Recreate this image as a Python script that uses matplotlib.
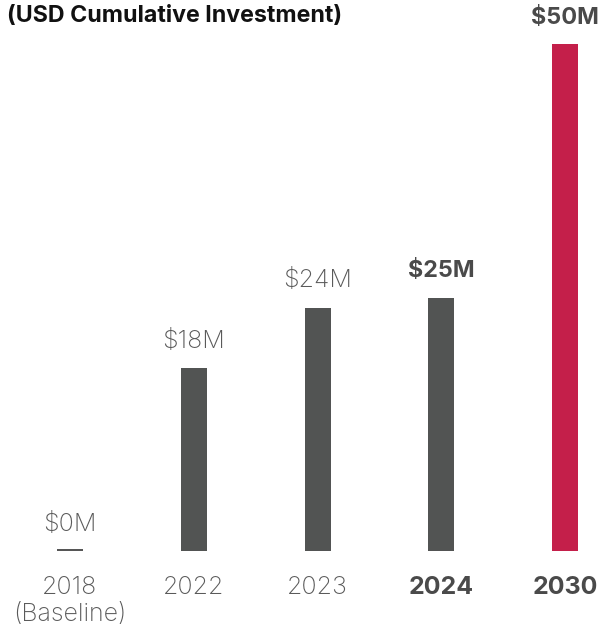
import matplotlib.pyplot as plt

categories = ["2018\n(Baseline)", "2022", "2023", "2024", "2030"]
values = [0, 18, 24, 25, 50]
value_labels = ["$0M", "$18M", "$24M", "$25M", "$50M"]
bold_flags = [False, False, False, True, True]
bar_colors = ["#525453", "#525453", "#525453", "#525453", "#C41F4A"]

W, H = 600, 629
fig = plt.figure(figsize=(W / 100, H / 100), dpi=100)
base_px = 78  # baseline distance from bottom, px
ax = fig.add_axes([0, base_px / H, 1, 1 - base_px / H])

step = 123.75
ax.set_xlim(-70 / step, 4 + 35 / step)
ax.set_ylim(0, (H - base_px) / 10.14)
x = list(range(len(values)))
width = 26 / step

ax.bar(x, values, width=width, color=bar_colors, linewidth=0)
# zero-value bar drawn as a thin baseline stroke
for xi, v, c in zip(x, values, bar_colors):
    if v == 0:
        ax.hlines(v + 0.08, xi - width / 2, xi + width / 2, color="#444444", linewidth=1.3)

fam = ["Inter", "DejaVu Sans"]
for xi, v, lab, b in zip(x, values, value_labels, bold_flags):
    ax.annotate(lab, (xi, v), xytext=(0, 11), textcoords="offset points",
                ha="center", va="bottom", fontsize=16.8 if b else 18, family=fam,
                fontweight="bold" if b else "light",
                color="#4a4a4a" if b else "#5a5a5a")

ax.set_xticks(x)
ax.set_xticklabels(categories, fontsize=18, family=fam, linespacing=1.25)
for t, b in zip(ax.get_xticklabels(), bold_flags):
    t.set_fontweight("bold" if b else "light")
    t.set_color("#4a4a4a" if b else "#5a5a5a")
    t.set_verticalalignment("top")
ax.tick_params(axis="x", length=0, pad=18)
ax.set_yticks([])
for s in ax.spines.values():
    s.set_visible(False)

fig.text(7 / W, 1 - 16 / H, "(USD Cumulative Investment)", ha="left", va="center",
         fontsize=16.7, fontweight="bold", family=fam, color="#111111")

fig.savefig("out.png", dpi=100)
